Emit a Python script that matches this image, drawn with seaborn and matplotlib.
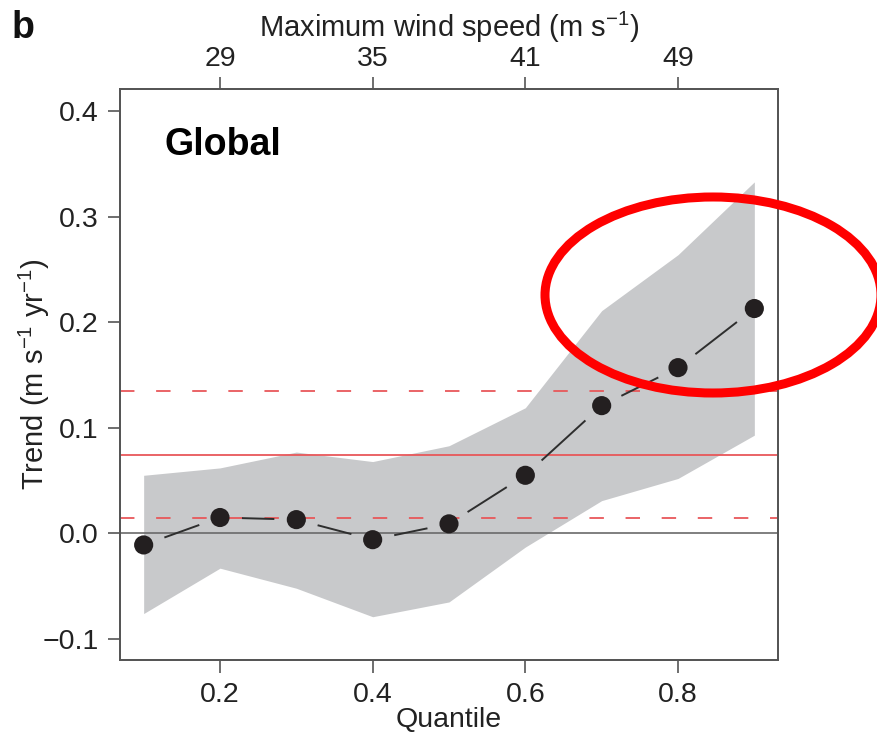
import numpy as np
import pandas as pd
import matplotlib
matplotlib.use("Agg")
import matplotlib.pyplot as plt
import seaborn as sns
from matplotlib.patches import Ellipse

# ---- data ----
quantiles = [0.1, 0.2, 0.3, 0.4, 0.5, 0.6, 0.7, 0.8, 0.9]
trend = [-0.011, 0.015, 0.013, -0.006, 0.009, 0.055, 0.121, 0.157, 0.213]
band_upper = [0.055, 0.062, 0.077, 0.068, 0.083, 0.119, 0.211, 0.264, 0.333]
band_lower = [-0.076, -0.033, -0.052, -0.079, -0.065, -0.013, 0.031, 0.052, 0.093]
mean_trend = 0.0745
mean_trend_ci = [0.0145, 0.1345]
x_ticks = [0.2, 0.4, 0.6, 0.8]
x_ticklabels = ["0.2", "0.4", "0.6", "0.8"]
y_ticks = [-0.1, 0.0, 0.1, 0.2, 0.3, 0.4]
y_ticklabels = ["\u22120.1", "0.0", "0.1", "0.2", "0.3", "0.4"]
wind_tick_q = [0.2, 0.4, 0.6, 0.8]
wind_labels = ["29", "35", "41", "49"]

df = pd.DataFrame({"Quantile": quantiles, "Trend": trend})

sns.set_theme(style="ticks")
plt.rcParams["font.family"] = ["Liberation Sans", "DejaVu Sans"]
plt.rcParams["mathtext.fontset"] = "custom"
plt.rcParams["mathtext.rm"] = "Liberation Sans"
plt.rcParams["mathtext.it"] = "Liberation Sans:italic"
plt.rcParams["mathtext.bf"] = "Liberation Sans:bold"

W, H = 877, 736
fig = plt.figure(figsize=(W / 100, H / 100), dpi=100)
ax = fig.add_axes([120 / W, 1 - 660 / H, 658 / W, 571 / H])
ax.set_xlim(0.069, 0.931)
ax.set_ylim(-0.120, 0.421)

spine_col = "#555555"
tfs = 20.5
lfs = 21
txt_col = "#222222"

# band
ax.fill_between(quantiles, band_lower, band_upper, color="#c8c9cb", lw=0, zorder=1)
# reference lines
ax.axhline(0.0, color="#6a6a6a", lw=1.2, zorder=2)
red = "#e8575a"
ax.axhline(mean_trend, color=red, lw=1.3, zorder=2)
for v in mean_trend_ci:
    ax.axhline(v, color=red, lw=1.3, dashes=(8, 12), zorder=2)

# gapped connecting line (R type="b")
pts = ax.transData.transform(np.column_stack([quantiles, trend]))
gap = 22
inv = ax.transData.inverted()
for p0, p1 in zip(pts[:-1], pts[1:]):
    d = p1 - p0
    L = np.hypot(*d)
    if L > 2 * gap:
        u = d / L
        seg = inv.transform(np.array([p0 + u * gap, p1 - u * gap]))
        ax.plot(seg[:, 0], seg[:, 1], color="#2e2e2e", lw=1.4, zorder=3,
                solid_capstyle="butt")

sns.scatterplot(data=df, x="Quantile", y="Trend", s=190, color="#231f20",
                edgecolor="none", zorder=4, ax=ax, legend=False)

# axes styling
for sp in ax.spines.values():
    sp.set_color(spine_col)
    sp.set_linewidth(1.3)
ax.set_xticks(x_ticks, x_ticklabels)
ax.set_yticks(y_ticks, y_ticklabels)
ax.tick_params(axis="both", direction="out", length=9, width=1.2, color=spine_col,
               labelsize=tfs, labelcolor=txt_col)
ax.tick_params(axis="x", pad=7)
ax.tick_params(axis="y", pad=6.5)
ax.set_xlabel("Quantile", fontsize=20.5, color=txt_col)
ax.xaxis.set_label_coords(0.5, (660 - 727) / 571)
ax.xaxis.label.set_va("baseline")
ax.set_ylabel("Trend (m s$^{-1}$ yr$^{-1}$)", fontsize=lfs, color=txt_col)
ax.yaxis.set_label_coords(-0.103, 0.5)

ax2 = ax.twiny()
ax2.set_xlim(ax.get_xlim())
ax2.set_xticks(wind_tick_q, wind_labels)
ax2.tick_params(axis="x", direction="out", length=9, width=1.2, color=spine_col,
                labelsize=tfs, labelcolor=txt_col, pad=3)
for sp in ax2.spines.values():
    sp.set_color(spine_col)
    sp.set_linewidth(1.3)
ax2.set_xlabel("Maximum wind speed (m s$^{-1}$)", fontsize=lfs, color=txt_col,
               labelpad=7)

ax.text(0.068, 0.884, "Global", transform=ax.transAxes, fontsize=27,
        fontweight="bold", va="baseline", color="black")
fig.text(12 / W, 1 - 38 / H, "b", fontsize=27, fontweight="bold", va="baseline",
         color="#111111")

# red annotation ellipse
fig.add_artist(Ellipse((713 / 100, (H - 295) / 100), 3.36, 1.96,
                       transform=fig.dpi_scale_trans, fill=False,
                       edgecolor="#ff0000", lw=6.5, zorder=10))

fig.savefig("out.png", dpi=100)
